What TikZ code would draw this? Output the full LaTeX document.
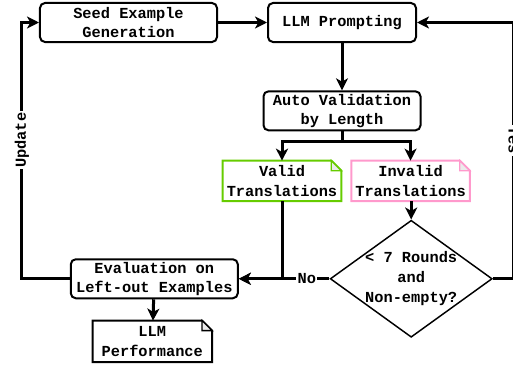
\documentclass[tikz,border=0pt]{standalone}
\usepackage{fontspec}
\setmonofont{Liberation Mono}
\usepackage{tikz}
\usetikzlibrary{shapes.geometric, arrows.meta, positioning, calc}
\definecolor{validgreen}{HTML}{66CC00}
\definecolor{invalidpink}{HTML}{FF99CC}
\tikzset{
  txt/.style={font=\ttfamily\bfseries\fontsize{11.5}{14.5}\selectfont, align=center, text=black},
  stepbox/.style={txt, rectangle, rounded corners=3.75pt, draw=black, line width=1.5pt, fill=white, minimum height=29.25pt, inner xsep=3pt, inner ysep=1pt},
  docbox/.style={txt, rectangle, minimum width=88.5pt, minimum height=30pt, inner xsep=2pt, inner ysep=1pt},
  flow/.style={line width=2.25pt, -{Stealth[length=9pt,width=9pt,inset=2.5pt]}},
  tag/.style={txt, fill=white, inner sep=1pt},
}
\newcommand{\docoutline}[2]{%
  \draw[draw=#2, line width=1.5pt, line join=miter] (#1.north west) -- ([xshift=-7.5pt]#1.north east) -- ([yshift=-7.5pt]#1.north east) -- (#1.south east) -- (#1.south west) -- cycle;
  \filldraw[draw=#2, fill=black!8, line width=1pt, line join=miter] ([xshift=-7.5pt]#1.north east) |- ([yshift=-7.5pt]#1.north east) -- cycle;}

\begin{document}
\begin{tikzpicture}
    \useasboundingbox (-96.375pt,16.875pt) rectangle ++(384.75pt,-273pt);%fixes the margins
    \node (seed) [stepbox, minimum width=132.75pt] at (0,0) {Seed Example\\Generation};%draws the seed step
    \node (prompt) [stepbox, minimum width=111pt, right=36.75pt of seed] {LLM Prompting};%draws the prompting step
    \node (auto) [stepbox, minimum width=117.75pt, below=35.5pt of prompt] {Auto Validation\\by Length};%draws the validation step
    \node (good) [docbox, below=22pt of auto, xshift=-45pt] {Valid\\Translations};%valid output
    \node (bad) [docbox, right=7.5pt of good] {Invalid\\Translations};%invalid output
    \docoutline{good}{validgreen}
    \docoutline{bad}{invalidpink}
    \node (check) [diamond, draw=black, line width=1.1pt, fill=white, inner sep=0pt, minimum width=121.5pt, minimum height=87.75pt, below=13.75pt of bad, xshift=0.5pt,
      label={[txt, font=\ttfamily\bfseries\fontsize{11.5}{15}\selectfont]center:{< 7 Rounds\\and\\Non-empty?}}] {};%draws the decision
    \node (eval) [stepbox, minimum width=125.25pt, left=68pt of check] {Evaluation on\\Left-out Examples};%draws the evaluation step
    \node (perf) [docbox, minimum width=89.25pt, minimum height=30.75pt, below=16pt of eval, xshift=-1.5pt] {LLM\\Performance};%result
    \docoutline{perf}{black}
    \draw[flow] (seed) -- (prompt);%seed to prompting
    \draw[flow] (prompt) -- (auto);%prompting to validation
    \draw[flow] (auto.south) -- ++(0,-7.5pt) -| (good.north);%validation to valid
    \draw[flow] (auto.south) -- ++(0,-7.5pt) -| (bad.north);%validation to invalid
    \draw[flow] (check.north |- bad.south) -- (check.north);%invalid to decision
    \draw[flow] (good.south) |- (eval.east);%valid to evaluation
    \draw[flow] (check.west) -- node[tag, pos=0.25]{No} (eval.east);%no branch
    \draw[flow] (check.east) -- ++(15.5pt,0) |- node[tag, pos=0.27, rotate=-90]{Yes} (prompt.east);%yes branch
    \draw[flow] (eval.west) -- ++(-36pt,0) |- node[tag, pos=0.27, rotate=90]{Update} (seed.west);%update branch
    \draw[flow] (eval) -- (perf);%evaluation to performance
  \end{tikzpicture}
\end{document}
